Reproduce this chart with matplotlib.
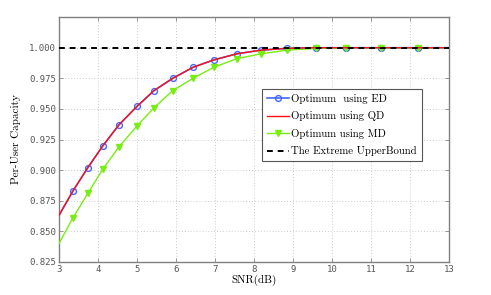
import matplotlib
matplotlib.use("Agg")
import matplotlib.pyplot as plt

# SNR points where markers sit (dB)
snr_pts = [3.36, 3.74, 4.13, 4.54, 5.0, 5.44, 5.92, 6.44, 6.97, 7.56,
           8.18, 8.85, 9.59, 10.36, 11.26, 12.2]
ed_vals = [0.883, 0.902, 0.920, 0.937, 0.952, 0.965, 0.975, 0.984, 0.990, 0.995,
           0.998, 0.9995, 1.0, 1.0, 1.0, 1.0]
md_vals = [0.861, 0.881, 0.901, 0.919, 0.936, 0.951, 0.965, 0.975, 0.984, 0.991,
           0.995, 0.998, 0.9994, 1.0, 1.0, 1.0]

# curve end points at the plot edges
snr_start, snr_end = 3.0, 13.0
ed_start, md_start = 0.863, 0.840

snr_line = [snr_start] + snr_pts + [snr_end]
ed_line = [ed_start] + ed_vals + [1.0]
md_line = [md_start] + md_vals + [1.0]
bound = [1.0, 1.0]

label_font = "cmr10"
tick_font = "DejaVu Sans Mono"

fig = plt.figure(figsize=(4.91, 2.95), dpi=100)
ax = fig.add_axes([0.120, 0.112, 0.794, 0.830])

mk = list(range(1, len(snr_line) - 1))
ax.plot(snr_line, ed_line, color="#4466ff", lw=1.2, marker="o", ms=4.2,
        mfc="none", mec="#4466ff", mew=1.0, markevery=mk,
        label="Optimum  using ED", zorder=3)
ax.plot(snr_line, ed_line, color="#ff1010", lw=1.0, label="Optimum using QD", zorder=4)
ax.plot(snr_line, md_line, color="#77ee11", lw=1.0, marker="v", ms=4.2,
        mfc="#77ee11", mec="#77ee11", markevery=mk,
        label="Optimum using MD", zorder=3)
ax.plot([snr_start, snr_end], bound, color="black", lw=1.4, ls=(0, (3, 2.5)),
        label="The Extreme UpperBound", zorder=5)

ax.set_xlim(3, 13)
ax.set_ylim(0.825, 1.025)
ax.set_xticks(range(3, 14))
ax.set_yticks([0.825, 0.85, 0.875, 0.9, 0.925, 0.95, 0.975, 1.0])
ax.set_yticklabels([f"{v:.3f}" for v in ax.get_yticks()])

ax.grid(True, color="#cccccc", ls=(0, (1, 2)), lw=0.7)
ax.tick_params(direction="in", length=3, width=0.6, color="#888888",
               labelsize=6.5, labelcolor="#555555", top=True, right=True, pad=2)
for lab in ax.get_xticklabels() + ax.get_yticklabels():
    lab.set_family(tick_font)
for sp in ax.spines.values():
    sp.set_color("#808080")
    sp.set_linewidth(1.0)

ax.set_xlabel("SNR(dB)", family=label_font, fontsize=8, labelpad=1)
ax.set_ylabel("Per-User Capacity", family=label_font, fontsize=8, labelpad=6)

leg = ax.legend(loc="upper left", bbox_to_anchor=(0.52, 0.707), borderaxespad=0,
                prop={"family": label_font, "size": 7.8},
                numpoints=1, fancybox=False, edgecolor="#555555", framealpha=1,
                handlelength=2.1, handletextpad=0.2, borderpad=0.45, labelspacing=0.7)
leg.get_frame().set_linewidth(0.8)

fig.savefig("out.png", dpi=100)
